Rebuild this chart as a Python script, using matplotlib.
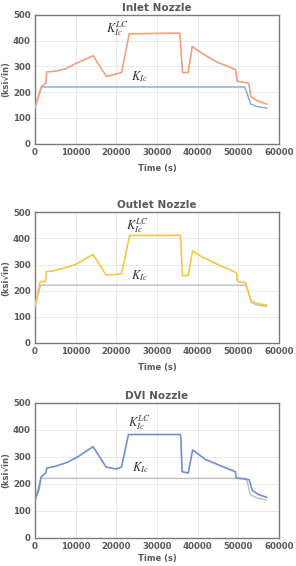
import matplotlib
matplotlib.use("Agg")
import matplotlib.pyplot as plt

# ---- data ----
titles = ["Inlet Nozzle", "Outlet Nozzle", "DVI Nozzle"]

inlet_kic_t = [0, 1600, 51600, 53100, 54500, 57000]
inlet_kic_v = [138, 220, 220, 154, 145, 138]
inlet_lc_t = [0, 1600, 2500, 2700, 2900, 5300, 7500, 9400, 14300, 17600, 21300, 23200, 35650,
              36300, 37700, 38700, 41000, 43000, 45000, 47100, 49400, 49750, 52600, 53100, 54500, 57000]
inlet_lc_v = [138, 222, 232, 235, 278, 282, 290, 306, 341, 261, 276, 426, 429,
              276, 276, 377, 352, 332, 315, 302, 287, 242, 235, 183, 168, 154]

outlet_kic_t = [0, 1400, 51900, 53300, 54500, 57000]
outlet_kic_v = [140, 221, 221, 155, 146, 140]
outlet_lc_t = [0, 1300, 2600, 2800, 5000, 8000, 10000, 14300, 17500, 20000, 21300, 23300, 35800,
               36300, 37700, 38800, 41000, 45000, 48000, 49600, 49800, 51800, 53200, 55000, 57000]
outlet_lc_v = [140, 235, 235, 272, 278, 290, 300, 339, 260, 262, 265, 411, 412,
               258, 258, 353, 330, 300, 280, 268, 235, 230, 160, 150, 145]

dvi_kic_t = [0, 1500, 52000, 53000, 54500, 57000]
dvi_kic_v = [140, 220, 220, 160, 148, 140]
dvi_lc_t = [0, 1000, 1500, 2200, 2700, 2900, 5000, 8000, 10500, 14300, 17500, 20000, 21300, 23000,
            35700, 35900, 36200, 37700, 38800, 42000, 46000, 49300, 49500, 51500, 52700, 53500,
            55000, 57000]
dvi_lc_v = [138, 180, 225, 235, 240, 258, 265, 280, 300, 338, 262, 255, 262, 383,
            383, 375, 245, 240, 326, 290, 265, 245, 222, 218, 215, 175,
            160, 150]

series = [
    (inlet_kic_t, inlet_kic_v, inlet_lc_t, inlet_lc_v),
    (outlet_kic_t, outlet_kic_v, outlet_lc_t, outlet_lc_v),
    (dvi_kic_t, dvi_kic_v, dvi_lc_t, dvi_lc_v),
]
lc_colors = ["#F4A07A", "#F6C744", "#6F8FD3"]
kic_colors = ["#7FA8D8", "#BDBDBD", "#BDBDBD"]
lc_label_pos = [(20200, 446), (25100, 450), (25800, 426)]
kic_label_pos = [(25800, 260), (25800, 256), (26000, 261)]

x_ticks = [0, 10000, 20000, 30000, 40000, 50000, 60000]
y_ticks = [0, 100, 200, 300, 400, 500]

plt.rcParams["mathtext.fontset"] = "stix"

fig = plt.figure(figsize=(2.96, 5.66), dpi=100)
positions = [
    (0.118, 0.746, 0.824, 0.228),
    (0.118, 0.394, 0.824, 0.231),
    (0.118, 0.050, 0.824, 0.238),
]
xlabel_pads = [5, 5, 2]
txt_color = "#595959"
for i, pos in enumerate(positions):
    ax = fig.add_axes(pos)
    kt, kv, lt, lv = series[i]
    ax.plot(kt, kv, color=kic_colors[i], lw=1.0, zorder=2)
    ax.plot(lt, lv, color=lc_colors[i], lw=1.2, zorder=3)
    ax.set_xlim(0, 60000)
    ax.set_ylim(0, 500)
    ax.set_xticks(x_ticks)
    ax.set_yticks(y_ticks)
    ax.tick_params(length=0, labelsize=6.2, colors=txt_color, pad=3)
    for lab in ax.get_xticklabels() + ax.get_yticklabels():
        lab.set_fontweight("bold")
    ax.grid(True, color="#E6E6E6", lw=0.6)
    ax.set_axisbelow(True)
    for s in ax.spines.values():
        s.set_color("#7A7A7A")
        s.set_linewidth(1.0)
    ax.set_title(titles[i], fontsize=7.5, fontweight="bold", color=txt_color, pad=3)
    ax.set_xlabel("Time (s)", fontsize=6, fontweight="bold", color=txt_color, labelpad=xlabel_pads[i])
    ax.set_ylabel("(ksi\u221ain)", fontsize=6, fontweight="bold", color=txt_color, labelpad=2)
    ax.text(*lc_label_pos[i], r"$K_{Ic}^{LC}$", fontsize=9, ha="center", va="center", color="#333333")
    ax.text(*kic_label_pos[i], r"$K_{Ic}$", fontsize=9, ha="center", va="center", color="#333333")

fig.savefig("out.png", dpi=100)
